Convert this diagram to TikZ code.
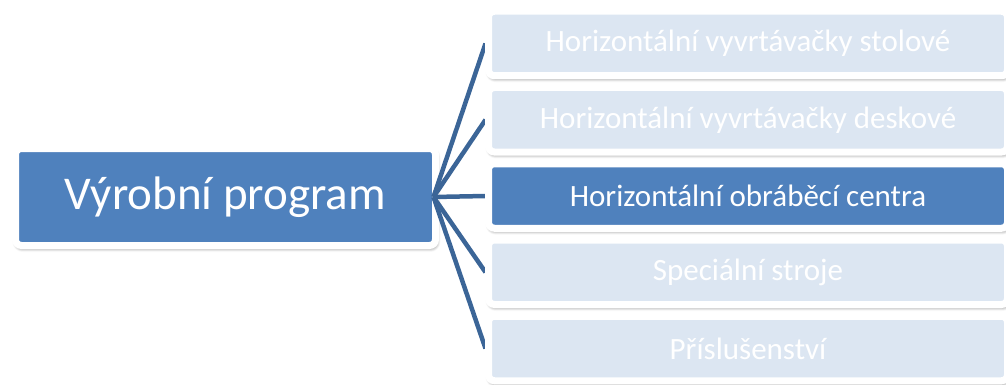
\documentclass[tikz,border=0pt]{standalone}
\usepackage{fontspec}
\setmainfont{Carlito}
\usetikzlibrary{shadows.blur}
\definecolor{mainblue}{HTML}{4F81BD}
\definecolor{lightblue}{HTML}{DCE6F2}
\definecolor{linkblue}{HTML}{3B6597}
\pgfdeclarelayer{front}
\pgfsetlayers{main,front}
\tikzset{
  framebox/.style={draw=white, rounded corners=6pt, outer sep=0pt, inner sep=0pt,
    blur shadow={shadow xshift=1pt, shadow yshift=-2.5pt, shadow opacity=60, shadow blur steps=8, shadow blur radius=4pt}},
  rootbox/.style={framebox, fill=mainblue, line width=7pt, minimum width=420pt, minimum height=97pt},
  itembox/.style={framebox, line width=7pt, minimum width=519pt, minimum height=64.5pt,
    text=white, font=\fontsize{31}{36}\selectfont},
  link/.style={draw=linkblue, line width=4.5pt}
}
\begin{document}
\begin{tikzpicture}[x=1pt,y=-1pt]
\useasboundingbox (0,0) rectangle (1006,385);
\clip (0,0) rectangle (1006,385);
\node[rootbox, text=white, font=\fontsize{47}{56}\selectfont] (root) at (225.5,197) {Výrobní program};
\begin{pgfonlayer}{front}
\node[itembox, fill=lightblue] (b1) at (748,43.5) {Horizontální vyvrtávačky stolové};
\node[itembox, fill=lightblue] (b2) at (748,119.75) {Horizontální vyvrtávačky deskové};
\node[itembox, fill=mainblue] (b3) at (748,196) {Horizontální obráběcí centra};
\node[itembox, fill=lightblue] (b4) at (748,272.25) {Speciální stroje};
\node[itembox, fill=lightblue] (b5) at (748,348.5) {Příslušenství};
\end{pgfonlayer}
\coordinate (hub) at ([xshift=-2pt]root.east);
\foreach \b in {b1,b2,b3,b4,b5} \draw[link] (hub) -- ([xshift=-3pt]\b.west);
\end{tikzpicture}
\end{document}
